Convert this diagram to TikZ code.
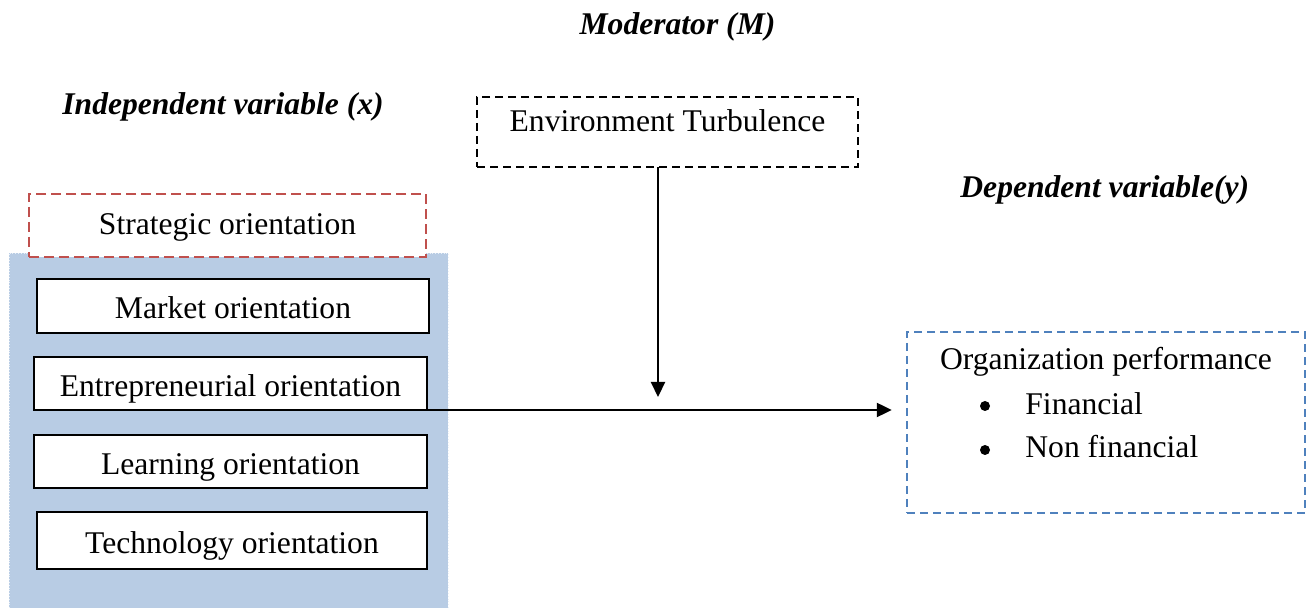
\documentclass[tikz,border=0pt]{standalone}
\usepackage{fontspec}
\setmainfont{Liberation Serif}
\usetikzlibrary{arrows.meta,calc}
\definecolor{panelblue}{HTML}{B8CCE4}
\definecolor{dashred}{HTML}{C0504D}
\definecolor{dashblue}{HTML}{4F81BD}
\tikzset{
  txt/.style={font=\fontsize{15.8}{19}\selectfont},
  lbl/.style={font=\fontsize{15.8}{19}\selectfont\bfseries\itshape, inner sep=0pt},
  solidbox/.style={draw=black, line width=1.2pt, txt, inner sep=0pt, text height=13pt, text depth=0pt},
  redbox/.style={draw=dashred, line width=1.2pt, dash pattern=on 5pt off 2.5pt, txt, inner sep=0pt, text height=9.5pt, text depth=0pt},
  blackdash/.style={draw=black, line width=1.2pt, dash pattern=on 4pt off 2.5pt, txt, inner sep=0pt},
  bluedash/.style={draw=dashblue, line width=1.2pt, dash pattern=on 4pt off 2.5pt, inner sep=0pt},
  arr/.style={line width=1.1pt, -{Triangle[length=7.5pt,width=7pt]}},
  plain/.style={txt, inner sep=0pt, anchor=base west},
  dot/.style={circle, fill=black, inner sep=0pt, minimum size=5pt}
}
\begin{document}
\begin{tikzpicture}[x=0.5pt,y=-0.5pt]
\useasboundingbox (0,0) rectangle (1307,608);
% panel
\fill[panelblue] (9,253) rectangle (448,608);
\draw[white!70!panelblue, densely dotted, line width=0.4pt] (9,608) -- (9,253) -- (448,253) -- (448,608);
% headings
\node[lbl, anchor=base] (modl) at (677.5,35) {Moderator (M)};
\node[lbl, anchor=base west] (indl) at (62,115) {Independent variable (x)};
\node[lbl, anchor=base west] (depl) at (960,198) {Dependent variable(y)};
% boxes
\node[redbox, fill=white, minimum width=198.5pt, minimum height=31.5pt] (strat) at (227.5,225.5) {Strategic orientation};
\node[solidbox, fill=white, minimum width=196pt, minimum height=27pt] (market) at (233,306) {Market orientation};
\node[solidbox, fill=white, minimum width=196.5pt, minimum height=26.5pt, text height=13.5pt] (entre) at (230.5,383.5) {Entrepreneurial orientation};
\node[solidbox, fill=white, minimum width=196.5pt, minimum height=26.5pt, text height=13.5pt] (learn) at (230.5,461.5) {Learning orientation};
\node[solidbox, fill=white, minimum width=195pt, minimum height=28.5pt, text height=13.5pt] (tech) at (232,540.5) {Technology orientation};
\node[blackdash, minimum width=190.5pt, minimum height=35pt, text height=12pt, text depth=12pt] (env) at (667.5,132) {Environment Turbulence};
\node[bluedash, minimum width=199pt, minimum height=90.5pt] (perf) at (1106,422.5) {};
% performance contents
\node[txt, inner sep=0pt, anchor=base] (perft) at (1106,370) {Organization performance};
\node[dot] (b1) at (985,406) {};
\node[plain] (fin) at (1025,415) {Financial};
\node[dot] (b2) at (985,450) {};
\node[plain] (nfin) at (1025,458) {Non financial};
% connectors
\coordinate (hs) at (400,410);
\coordinate (vs) at (658,167);
\coordinate (vt) at (658,397);
\draw[arr] (hs) -- ($(hs -| perf.west)+(-14,0)$);
\draw[arr] (vs) -- (vt);
\end{tikzpicture}
\end{document}
